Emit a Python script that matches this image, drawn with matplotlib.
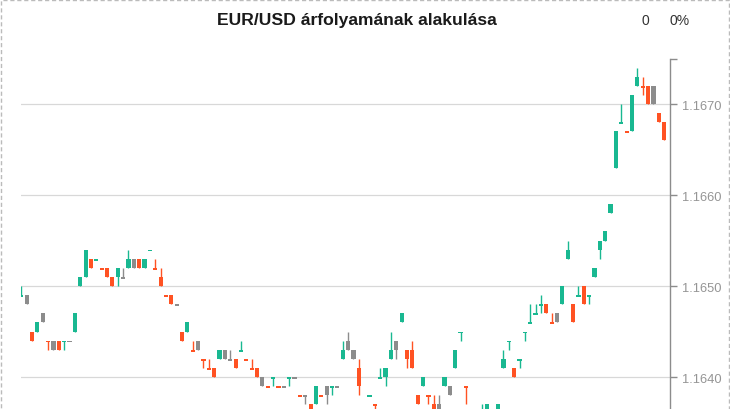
import matplotlib
matplotlib.use("Agg")
import matplotlib.pyplot as plt
from matplotlib.patches import Rectangle
import numpy as np

plt.rcParams['font.family'] = ['Liberation Sans', 'DejaVu Sans']

# ---- data (EUR/USD candles) ----
open_ = [1.1649, 1.1648, 1.1645, 1.1645, 1.1647, 1.1644, 1.1643, 1.1644, 1.1644, 1.1644,
         1.1645, 1.1650, 1.1651, 1.1653, 1.1653, 1.1652, 1.1652, 1.1651, 1.1652, 1.1651,
         1.1652, 1.1652, 1.1653, 1.1652, 1.1654, 1.1652, 1.1651, 1.1649, 1.1649, 1.1648,
         1.1645, 1.1645, 1.1643, 1.1644, 1.1642, 1.1641, 1.1641, 1.1643, 1.1643, 1.1642,
         1.1642, 1.1643, 1.1642, 1.1641, 1.1641, 1.1639, 1.1639, 1.1640, 1.1639, 1.1639,
         1.1640, 1.1640, 1.1638, 1.1638, 1.1637, 1.1637, 1.1638, 1.1639, 1.1639, 1.1639,
         1.1642, 1.1644, 1.1642, 1.1641, 1.1636, 1.1638, 1.1637, 1.1640, 1.1640, 1.1642,
         1.1644, 1.1646, 1.1643, 1.1643, 1.1638, 1.1639, 1.1638, 1.1637, 1.1637, 1.1640,
         1.1638, 1.1641, 1.1645, 1.1639, 1.1636, 1.1635, 1.1634, 1.1636, 1.1636, 1.1636,
         1.1641, 1.1644, 1.1641, 1.1642, 1.1645, 1.1646, 1.1647, 1.1648, 1.1648, 1.1646,
         1.1647, 1.1648, 1.1653, 1.1648, 1.1649, 1.1650, 1.1649, 1.1651, 1.1654, 1.1655,
         1.1658, 1.1663, 1.1668, 1.1667, 1.1667, 1.1672, 1.1672, 1.1672, 1.1672, 1.1669,
         1.1668]
high = [1.1650, 1.1649, 1.1645, 1.1646, 1.1647, 1.1644, 1.1644, 1.1644, 1.1644, 1.1644,
        1.1647, 1.1651, 1.1654, 1.1653, 1.1653, 1.1652, 1.1652, 1.1651, 1.1652, 1.1652,
        1.1654, 1.1653, 1.1653, 1.1653, 1.1654, 1.1653, 1.1652, 1.1649, 1.1649, 1.1648,
        1.1645, 1.1646, 1.1644, 1.1644, 1.1642, 1.1642, 1.1641, 1.1643, 1.1643, 1.1643,
        1.1642, 1.1644, 1.1642, 1.1642, 1.1641, 1.1640, 1.1639, 1.1640, 1.1639, 1.1639,
        1.1640, 1.1640, 1.1638, 1.1638, 1.1637, 1.1639, 1.1638, 1.1639, 1.1639, 1.1639,
        1.1644, 1.1645, 1.1643, 1.1642, 1.1636, 1.1638, 1.1637, 1.1641, 1.1641, 1.1645,
        1.1644, 1.1647, 1.1643, 1.1644, 1.1638, 1.1640, 1.1638, 1.1638, 1.1638, 1.1640,
        1.1639, 1.1643, 1.1645, 1.1639, 1.1636, 1.1635, 1.1637, 1.1637, 1.1636, 1.1637,
        1.1643, 1.1644, 1.1641, 1.1642, 1.1645, 1.1648, 1.1648, 1.1649, 1.1648, 1.1647,
        1.1647, 1.1650, 1.1655, 1.1648, 1.1650, 1.1650, 1.1649, 1.1652, 1.1655, 1.1656,
        1.1659, 1.1667, 1.1670, 1.1667, 1.1671, 1.1674, 1.1673, 1.1672, 1.1672, 1.1669,
        1.1668]
low = [1.1649, 1.1648, 1.1644, 1.1645, 1.1646, 1.1643, 1.1643, 1.1643, 1.1643, 1.1644,
       1.1645, 1.1650, 1.1651, 1.1652, 1.1653, 1.1652, 1.1651, 1.1650, 1.1650, 1.1651,
       1.1652, 1.1652, 1.1652, 1.1652, 1.1654, 1.1652, 1.1650, 1.1649, 1.1648, 1.1648,
       1.1644, 1.1645, 1.1643, 1.1643, 1.1641, 1.1641, 1.1640, 1.1642, 1.1642, 1.1642,
       1.1641, 1.1643, 1.1642, 1.1641, 1.1640, 1.1639, 1.1639, 1.1639, 1.1639, 1.1639,
       1.1639, 1.1640, 1.1638, 1.1637, 1.1636, 1.1637, 1.1638, 1.1637, 1.1638, 1.1639,
       1.1642, 1.1643, 1.1642, 1.1638, 1.1635, 1.1638, 1.1636, 1.1640, 1.1639, 1.1642,
       1.1642, 1.1646, 1.1641, 1.1641, 1.1637, 1.1639, 1.1637, 1.1636, 1.1636, 1.1639,
       1.1638, 1.1641, 1.1644, 1.1637, 1.1634, 1.1634, 1.1634, 1.1636, 1.1635, 1.1636,
       1.1641, 1.1643, 1.1640, 1.1641, 1.1644, 1.1646, 1.1647, 1.1647, 1.1647, 1.1646,
       1.1646, 1.1648, 1.1653, 1.1646, 1.1649, 1.1648, 1.1648, 1.1651, 1.1653, 1.1655,
       1.1658, 1.1663, 1.1668, 1.1667, 1.1667, 1.1672, 1.1671, 1.1670, 1.1670, 1.1668,
       1.1666]
close = [1.1649, 1.1649, 1.1644, 1.1646, 1.1646, 1.1644, 1.1644, 1.1643, 1.1644, 1.1644,
         1.1647, 1.1651, 1.1654, 1.1652, 1.1653, 1.1652, 1.1651, 1.1650, 1.1651, 1.1651,
         1.1653, 1.1653, 1.1652, 1.1653, 1.1654, 1.1652, 1.1650, 1.1649, 1.1648, 1.1648,
         1.1644, 1.1646, 1.1643, 1.1643, 1.1642, 1.1641, 1.1640, 1.1642, 1.1642, 1.1642,
         1.1641, 1.1643, 1.1642, 1.1641, 1.1640, 1.1640, 1.1639, 1.1640, 1.1639, 1.1639,
         1.1640, 1.1640, 1.1638, 1.1638, 1.1636, 1.1639, 1.1638, 1.1638, 1.1639, 1.1639,
         1.1643, 1.1643, 1.1643, 1.1639, 1.1635, 1.1638, 1.1637, 1.1640, 1.1641, 1.1643,
         1.1643, 1.1647, 1.1642, 1.1641, 1.1637, 1.1640, 1.1638, 1.1636, 1.1636, 1.1639,
         1.1639, 1.1643, 1.1645, 1.1639, 1.1635, 1.1634, 1.1636, 1.1637, 1.1635, 1.1637,
         1.1642, 1.1644, 1.1640, 1.1642, 1.1645, 1.1646, 1.1647, 1.1648, 1.1647, 1.1646,
         1.1646, 1.1650, 1.1654, 1.1646, 1.1649, 1.1648, 1.1649, 1.1652, 1.1655, 1.1656,
         1.1659, 1.1667, 1.1668, 1.1667, 1.1671, 1.1673, 1.1672, 1.1670, 1.1670, 1.1668,
         1.1666]

y_ticks = [1.1640, 1.1650, 1.1660, 1.1670]
y_tick_labels = ["1.1640", "1.1650", "1.1660", "1.1670"]
title = "EUR/USD árfolyamának alakulása"
change_value = "0"
change_pct = "0%"

# ---- styling ----
W, H = 730, 410
GREEN = "#19B891"
RED = "#FF5223"
GRAY = "#8C8C8C"
AXIS = "#8C8C8C"
GRID = "#D8D8D8"

fig = plt.figure(figsize=(W / 100, H / 100), dpi=100)
fig.patch.set_facecolor("white")

ax_left, ax_right, ax_top, ax_bottom = 21, 669.5, 60, 410
ax = fig.add_axes([ax_left / W, 1 - ax_bottom / H, (ax_right - ax_left) / W, (ax_bottom - ax_top) / H])

o = np.round(np.array(open_), 4)
h = np.round(np.array(high), 4)
l = np.round(np.array(low), 4)
c = np.round(np.array(close), 4)
n = len(c)
x = np.arange(n)

# colour by close vs previous close
colors = []
for i in range(n):
    if i == 0 or c[i] > c[i - 1]:
        colors.append(GREEN)
    elif c[i] < c[i - 1]:
        colors.append(RED)
    else:
        colors.append(GRAY)

ymin, ymax = 1.1636484, 1.1674945
ax.set_ylim(ymin, ymax)
ax.set_xlim(-0.06, n - 1 + 1.0)

px = (ymax - ymin) / (ax_bottom - ax_top)  # data units per pixel

for yv in y_ticks:
    ax.axhline(yv, color=GRID, lw=0.9, zorder=0)

ax.vlines(x, l, h, colors=colors, lw=1.0, zorder=2)
body_lo = np.minimum(o, c)
body_hi = np.maximum(o, c)
heights = body_hi - body_lo
flat = heights < px * 0.5
bottoms = np.where(flat, body_lo - 1.8 * px, body_lo)
heights = np.where(flat, 1.8 * px, heights)
ax.bar(x, heights, bottom=bottoms, width=0.78, color=colors, linewidth=0, zorder=3)

for s in ["left", "top", "bottom"]:
    ax.spines[s].set_visible(False)
ax.spines["right"].set_color(AXIS)
ax.spines["right"].set_linewidth(1.0)
ax.set_xticks([])
ax.yaxis.tick_right()
ax.set_yticks(y_ticks)
ax.set_yticklabels(y_tick_labels)
ax.set_yticks([ymax], minor=True)
ax.tick_params(axis="y", which="both", direction="out", length=5, width=1.0, color=AXIS,
               labelcolor="#959595", labelsize=9.3, pad=4)
ax.tick_params(axis="y", which="minor", labelright=False)
ax.set_facecolor("white")

fig.text(357 / W, 1 - 21 / H, title, ha="center", va="center", fontsize=12.6,
         fontweight="bold", color="#1a1a1a")
fig.text(645 / W, 1 - 21 / H, change_value, ha="center", va="center", fontsize=10, color="#333333")
fig.text(680 / W, 1 - 21 / H, change_pct, ha="center", va="center", fontsize=10, color="#333333")

border = Rectangle((0.5 / W, -0.05), (W - 1.5) / W, 1.05 - 0.5 / H, transform=fig.transFigure,
                   fill=False, edgecolor="#BBBBBB", lw=1.0, linestyle=(0, (3, 2)), zorder=10)
fig.patches.append(border)

fig.savefig("out.png", dpi=100, facecolor="white")
